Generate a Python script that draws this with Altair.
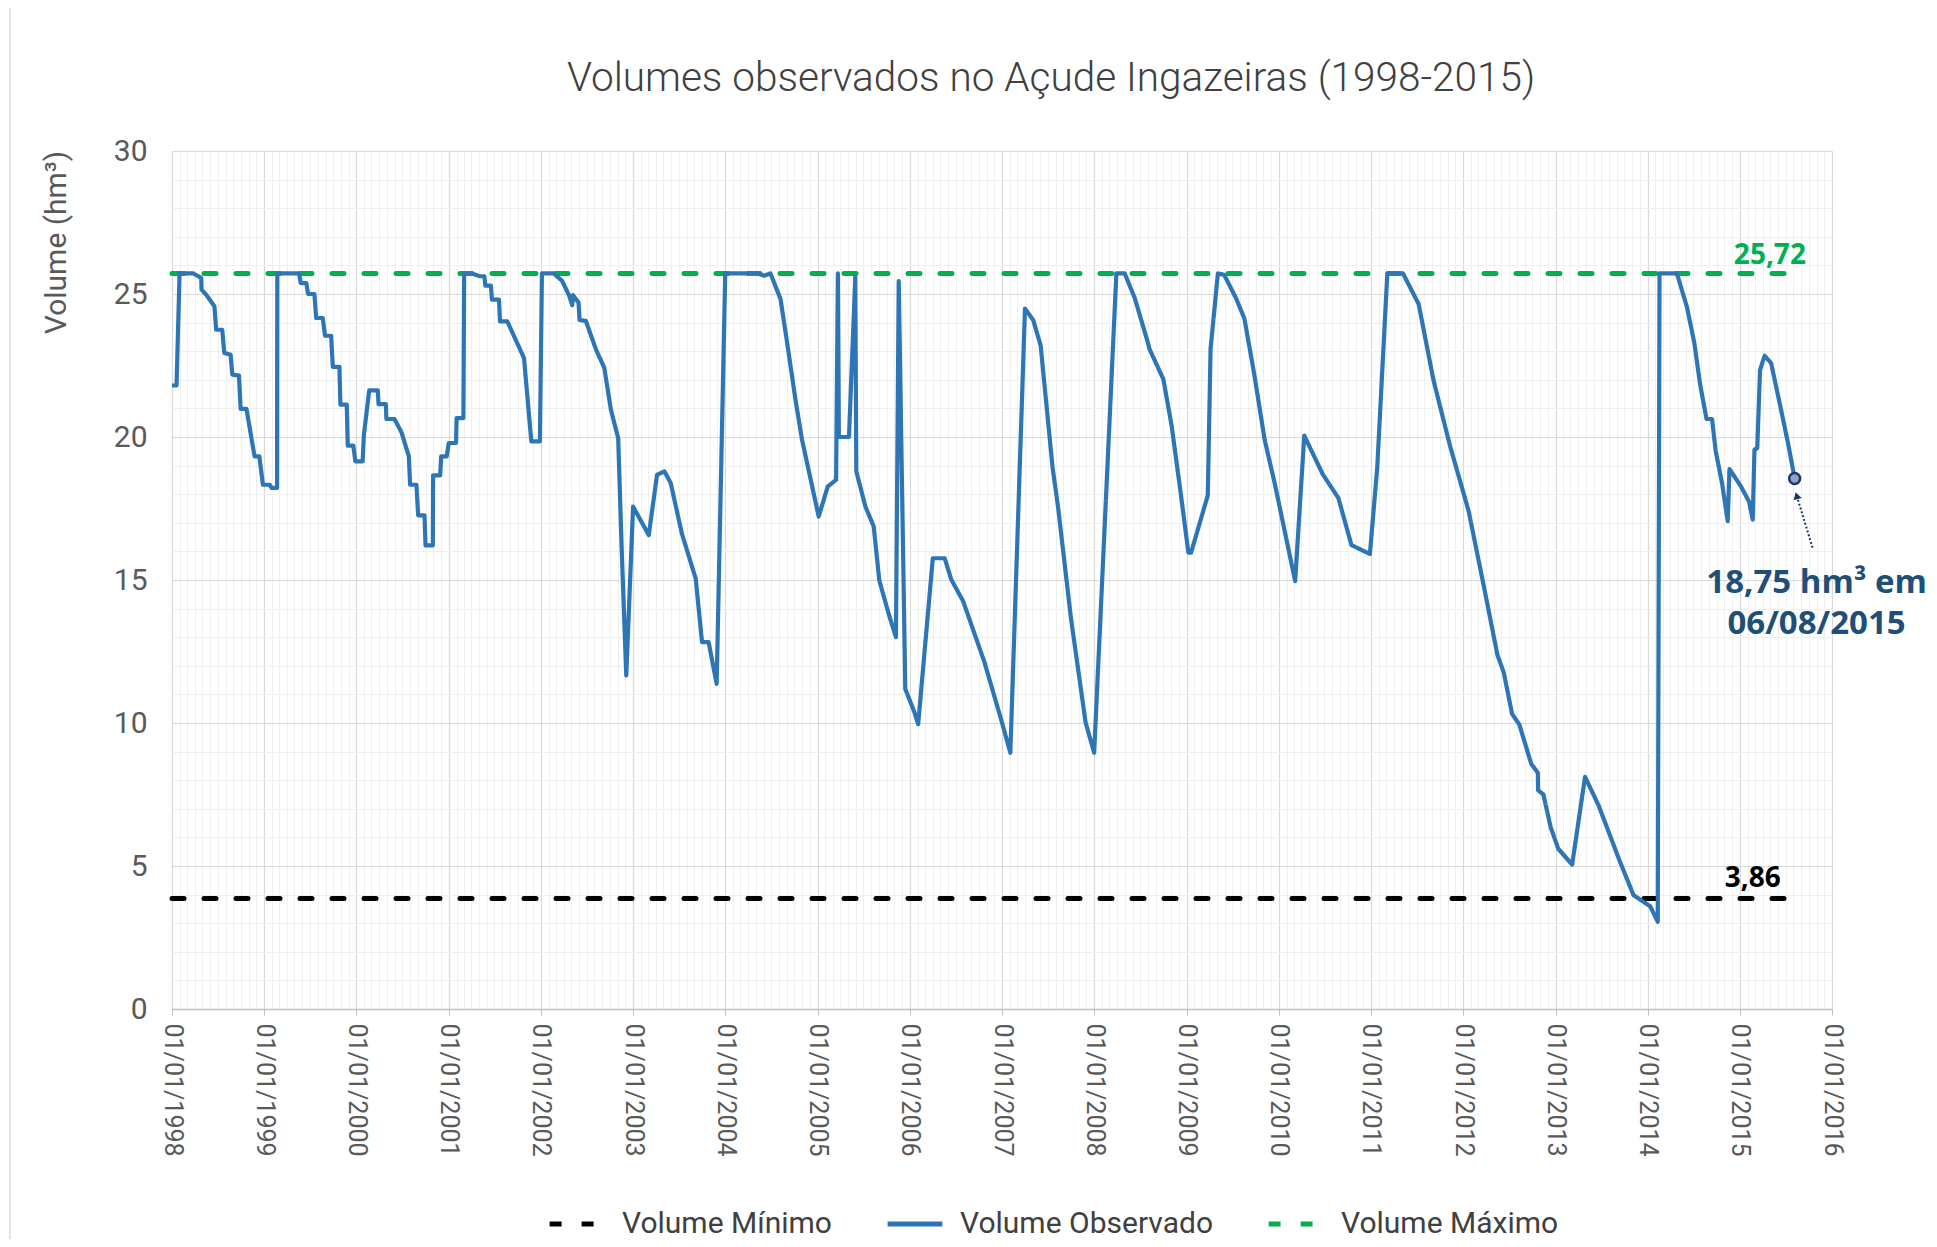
import altair as alt
import pandas as pd

# ---------------- data ----------------
dates = [
    "1998-01-01", "1998-01-19", "1998-01-31", "1998-03-26", "1998-04-27", "1998-04-28",
    "1998-05-16", "1998-06-18", "1998-06-25", "1998-07-19", "1998-07-27", "1998-08-21",
    "1998-08-28", "1998-09-23", "1998-09-30", "1998-10-23", "1998-11-24", "1998-12-13",
    "1998-12-27", "1999-01-23", "1999-01-30", "1999-02-21", "1999-02-22", "1999-05-19",
    "1999-05-26", "1999-06-17", "1999-06-24", "1999-07-19", "1999-07-26", "1999-08-21",
    "1999-08-30", "1999-09-23", "1999-09-30", "1999-10-26", "1999-10-30", "1999-11-24",
    "1999-11-28", "1999-12-20", "1999-12-28", "2000-01-26", "2000-01-31", "2000-02-21",
    "2000-03-26", "2000-03-29", "2000-04-27", "2000-04-29", "2000-05-31", "2000-06-28",
    "2000-07-27", "2000-08-01", "2000-08-26", "2000-09-02", "2000-09-27", "2000-10-01",
    "2000-10-30", "2000-10-31", "2000-11-28", "2000-12-02", "2000-12-24", "2001-01-01",
    "2001-01-30", "2001-02-01", "2001-02-28", "2001-03-03", "2001-04-01", "2001-05-05",
    "2001-05-22", "2001-05-26", "2001-06-17", "2001-06-21", "2001-07-19", "2001-07-23",
    "2001-08-21", "2001-10-26", "2001-11-24", "2001-12-28", "2002-01-05", "2002-02-21",
    "2002-03-26", "2002-04-23", "2002-05-05", "2002-05-08", "2002-05-30", "2002-06-03",
    "2002-06-28", "2002-08-07", "2002-09-09", "2002-10-05", "2002-11-03", "2002-11-17",
    "2002-12-05", "2003-01-01", "2003-03-04", "2003-04-06", "2003-05-05", "2003-05-30",
    "2003-07-13", "2003-09-06", "2003-10-01", "2003-10-27", "2003-11-28", "2004-01-01",
    "2004-05-08", "2004-06-03", "2004-06-28", "2004-08-07", "2004-09-02", "2004-10-05",
    "2004-10-31", "2005-01-05", "2005-02-10", "2005-03-15", "2005-03-22", "2005-03-26",
    "2005-05-05", "2005-05-30", "2005-06-03", "2005-07-09", "2005-08-11", "2005-09-02",
    "2005-10-09", "2005-11-07", "2005-11-18", "2005-12-14", "2006-01-19", "2006-02-03",
    "2006-04-02", "2006-05-19", "2006-06-14", "2006-07-31", "2006-10-23", "2006-12-28",
    "2007-02-03", "2007-04-02", "2007-05-05", "2007-06-03", "2007-07-20", "2007-08-11",
    "2007-10-01", "2007-11-28", "2008-01-01", "2008-03-29", "2008-05-01", "2008-06-10",
    "2008-07-31", "2008-08-07", "2008-10-01", "2008-11-03", "2008-12-09", "2009-01-08",
    "2009-01-19", "2009-03-26", "2009-04-06", "2009-05-05", "2009-05-30", "2009-07-16",
    "2009-08-18", "2009-09-27", "2009-11-06", "2009-12-16", "2010-03-07", "2010-04-12",
    "2010-06-24", "2010-08-25", "2010-10-16", "2010-12-28", "2011-01-26", "2011-03-07",
    "2011-05-08", "2011-07-09", "2011-09-06", "2011-11-10", "2012-01-23", "2012-03-26",
    "2012-05-16", "2012-06-10", "2012-07-13", "2012-08-11", "2012-09-27", "2012-10-23",
    "2012-10-24", "2012-11-14", "2012-12-13", "2013-01-12", "2013-03-08", "2013-04-28",
    "2013-06-21", "2013-09-13", "2013-11-06", "2014-01-11", "2014-02-10", "2014-02-17",
    "2014-04-27", "2014-06-06", "2014-07-05", "2014-07-27", "2014-08-22", "2014-09-13",
    "2014-09-27", "2014-10-23", "2014-11-14", "2014-11-21", "2015-01-05", "2015-02-07",
    "2015-02-21", "2015-02-28", "2015-03-11", "2015-03-22", "2015-04-09", "2015-05-05",
    "2015-06-10", "2015-07-13", "2015-08-06",
]
volumes = [
    21.8, 21.8, 25.72, 25.72, 25.56, 25.15,
    24.98, 24.57, 23.75, 23.75, 22.94, 22.88,
    22.18, 22.15, 20.98, 20.98, 19.32, 19.32,
    18.33, 18.33, 18.22, 18.22, 25.72, 25.72,
    25.38, 25.38, 25.0, 25.0, 24.16, 24.16,
    23.54, 23.54, 22.45, 22.45, 21.13, 21.13,
    19.7, 19.7, 19.15, 19.15, 20.08, 21.63,
    21.63, 21.15, 21.15, 20.63, 20.63, 20.16,
    19.32, 18.33, 18.33, 17.26, 17.26, 16.21,
    16.21, 18.66, 18.66, 19.32, 19.32, 19.79,
    19.79, 20.66, 20.66, 25.72, 25.72, 25.62,
    25.62, 25.29, 25.29, 24.8, 24.8, 24.04,
    24.04, 22.76, 19.85, 19.85, 25.72, 25.72,
    25.46, 24.94, 24.61, 24.96, 24.7, 24.09,
    24.06, 23.06, 22.42, 20.96, 19.96, 16.05,
    11.66, 17.57, 16.57, 18.68, 18.8, 18.39,
    16.63, 15.05, 12.83, 12.83, 11.37, 25.72,
    25.72, 25.64, 25.72, 24.82, 23.3, 21.31,
    19.91, 17.22, 18.27, 18.5, 25.72, 20.0,
    20.0, 25.6, 18.8, 17.57, 16.87, 14.99,
    13.82, 13.0, 25.45, 11.19, 10.38, 9.96,
    15.76, 15.76, 15.02, 14.26, 12.14, 10.14,
    8.96, 24.49, 24.08, 23.2, 18.96, 17.55,
    13.67, 10.02, 8.96, 25.72, 25.72, 24.85,
    23.32, 23.08, 22.02, 20.38, 18.02, 15.96,
    15.96, 17.96, 23.08, 25.72, 25.67, 24.85,
    24.14, 22.14, 19.91, 18.38, 14.96, 20.05,
    18.7, 17.87, 16.22, 15.91, 18.93, 25.72,
    25.72, 24.65, 21.98, 19.7, 17.41, 14.66,
    12.38, 11.77, 10.32, 9.94, 8.57, 8.26,
    7.65, 7.5, 6.35, 5.6, 5.05, 8.12,
    7.11, 5.16, 3.98, 3.59, 3.05, 25.72,
    25.72, 24.53, 23.28, 21.88, 20.63, 20.63,
    19.53, 18.36, 17.06, 18.88, 18.28, 17.73,
    17.11, 19.56, 19.61, 22.34, 22.84, 22.58,
    21.09, 19.69, 18.55,
]

series_names = ["Volume Mínimo", "Volume Observado", "Volume Máximo"]
series_colors = ["#000000", "#2E75B6", "#00B050"]

ref_series = ["Volume Mínimo", "Volume Máximo"]
ref_values = [3.86, 25.72]
ref_start = ["1998-01-01", "1998-01-01"]
ref_end = ["2015-08-06", "2015-08-06"]

year_ticks = list(range(1998, 2017))
y_major = [0, 5, 10, 15, 20, 25, 30]
y_minor = [v for v in range(0, 31) if v % 5 != 0]

# annotation texts and anchor points (date, value)
max_label = ["25,72"]
max_label_at = [("2015-04-30", 26.06)]
min_label = ["3,86"]
min_label_at = [("2015-02-21", 4.28)]
last_label = ["18,75 hm³ em\n06/08/2015"]
last_label_at = [("2015-11-01", 14.55)]
arrow_from = [("2015-10-16", 16.13)]
arrow_to = [("2015-08-14", 17.95)]

# ---------------- styling ----------------
FONT = "Roboto"
ANN_FONT = "Open Sans"
GRID_MAJOR = "#D9D9D9"
GRID_MINOR = "#EFEFEF"
NAVY = "#1F3864"

obs_df = pd.DataFrame({
    "data": dates,
    "volume": volumes,
    "serie": "Volume Observado",
    "ordem": list(range(len(dates))),
})
ref_df = pd.DataFrame({"serie": ref_series, "inicio": ref_start, "fim": ref_end, "valor": ref_values})
last_df = pd.DataFrame({"data": [dates[-1]], "volume": [volumes[-1]]})

x_scale = alt.Scale(
    type="utc",
    domain=[alt.DateTime(year=1998, month=1, date=1, utc=True),
            alt.DateTime(year=2016, month=1, date=1, utc=True)],
    nice=False,
)
y_scale = alt.Scale(domain=[0, 30], nice=False, zero=True)

color_scale = alt.Scale(domain=series_names, range=series_colors)
dash_scale = alt.Scale(domain=series_names, range=[[12, 20], [1, 0], [12, 20]])

legend = alt.Legend(
    title=None, orient="none", legendX=375, legendY=1043, direction="horizontal",
    symbolType="stroke", symbolSize=3000, symbolStrokeWidth=5,
    labelFont=FONT, labelFontSize=30, labelColor="#404040", labelOffset=15,
    columnPadding=45, labelLimit=500,
)

major_x_axis = alt.Axis(
    orient="bottom", values=[alt.DateTime(year=y, month=1, date=1, utc=True) for y in year_ticks],
    labelExpr="utcFormat(datum.value, '%d/%m/%Y')", labelAngle=90, labelFont=FONT, labelFontSize=25,
    labelColor="#595959", labelPadding=8, labelOverlap=False, labelFlush=False,
    grid=True, gridColor=GRID_MAJOR, gridWidth=1.2, ticks=True, tickColor="#BFBFBF", tickSize=6,
    domain=True, domainColor="#BFBFBF", domainWidth=1.5, title=None,
)
minor_x_axis = alt.Axis(
    orient="top",
    values=[alt.DateTime(year=y, month=m, date=1, utc=True) for y in year_ticks[:-1] for m in range(2, 13)],
    grid=True, gridColor=GRID_MINOR, gridWidth=1, labels=False, ticks=False, domain=False, title=None,
)
major_y_axis = alt.Axis(
    orient="left", values=y_major, labelFont=FONT, labelFontSize=30, labelColor="#595959",
    labelPadding=25, grid=True, gridColor=GRID_MAJOR, gridWidth=1.2, ticks=False, domain=False,
    title="Volume (hm³)", titleFont=FONT, titleFontSize=30, titleFontWeight="normal",
    titleColor="#595959", titleAngle=270, titleAlign="center", titleBaseline="middle",
    titleX=-116, titleY=91,
)
minor_y_axis = alt.Axis(
    orient="right", values=y_minor, grid=True, gridColor=GRID_MINOR, gridWidth=1,
    labels=False, ticks=False, domain=False, title=None,
)

# light frame around the whole chart area, as in the reference
frame_layer = alt.Chart(pd.DataFrame({"k": [0]})).mark_rect(
    fillOpacity=0, stroke="#D9D9D9", strokeWidth=1.5
).encode(
    x=alt.value(-162), x2=alt.value(1762), y=alt.value(-144), y2=alt.value(1110)
)

ref_layer = alt.Chart(ref_df).mark_rule(strokeWidth=5, strokeCap="round").encode(
    x=alt.X("inicio:T", scale=x_scale, axis=minor_x_axis),
    x2="fim:T",
    y=alt.Y("valor:Q", scale=y_scale, axis=minor_y_axis),
    color=alt.Color("serie:N", scale=color_scale, legend=legend),
    strokeDash=alt.StrokeDash("serie:N", scale=dash_scale, legend=legend),
)

obs_layer = alt.Chart(obs_df).mark_line(strokeWidth=4.2, strokeJoin="round").encode(
    x=alt.X("data:T", scale=x_scale, axis=major_x_axis),
    y=alt.Y("volume:Q", scale=y_scale, axis=major_y_axis),
    order="ordem:Q",
    color=alt.Color("serie:N", scale=color_scale, legend=legend),
    strokeDash=alt.StrokeDash("serie:N", scale=dash_scale, legend=legend),
)

point_layer = alt.Chart(last_df).mark_point(
    shape="circle", filled=True, fill="#8FA3C8", stroke=NAVY, strokeWidth=2.5, size=120, opacity=1
).encode(
    x=alt.X("data:T", scale=x_scale, axis=None),
    y=alt.Y("volume:Q", scale=y_scale, axis=None),
)

arrow_df = pd.DataFrame({
    "x1": [a[0] for a in arrow_from], "y1": [a[1] for a in arrow_from],
    "x2": [a[0] for a in arrow_to], "y2": [a[1] for a in arrow_to],
})
arrow_layer = alt.Chart(arrow_df).mark_rule(strokeDash=[2, 2], strokeWidth=2, color=NAVY).encode(
    x=alt.X("x1:T", scale=x_scale, axis=None),
    y=alt.Y("y1:Q", scale=y_scale, axis=None),
    x2="x2:T",
    y2="y2:Q",
)
head_layer = alt.Chart(arrow_df).mark_point(
    shape="triangle-up", filled=True, size=70, angle=344, color=NAVY, opacity=1
).encode(
    x=alt.X("x2:T", scale=x_scale, axis=None),
    y=alt.Y("y2:Q", scale=y_scale, axis=None),
)


def text_layer(labels, anchors, color, size, **kw):
    df = pd.DataFrame({
        "txt": labels,
        "data": [a[0] for a in anchors],
        "valor": [a[1] for a in anchors],
    })
    return alt.Chart(df).mark_text(
        font=ANN_FONT, fontWeight="bold", fontSize=size, color=color,
        align="center", baseline="alphabetic", **kw
    ).encode(
        x=alt.X("data:T", scale=x_scale, axis=None),
        y=alt.Y("valor:Q", scale=y_scale, axis=None),
        text="txt:N",
    )


max_text = text_layer(max_label, max_label_at, "#00B050", 28)
min_text = text_layer(min_label, min_label_at, "#000000", 28)
last_text = text_layer(last_label, last_label_at, "#1F4E79", 33, lineBreak="\n", lineHeight=41)

chart = alt.layer(
    frame_layer, ref_layer, obs_layer, point_layer, arrow_layer, head_layer,
    max_text, min_text, last_text
).resolve_axis(
    x="independent", y="independent"
).properties(
    width=1660,
    height=858,
    autosize=alt.AutoSizeParams(type="none"),
    padding={"left": 164, "top": 143, "right": 97, "bottom": 230},
    background="white",
    title=alt.TitleParams(
        text="Volumes observados no Açude Ingazeiras (1998-2015)",
        anchor="middle", dx=49, offset=-93, font=FONT, fontSize=40.5,
        fontWeight=300, color="#404040",
    ),
).configure_view(strokeWidth=0)

chart.save("out.html", embed_options={"renderer": "svg", "actions": False})
